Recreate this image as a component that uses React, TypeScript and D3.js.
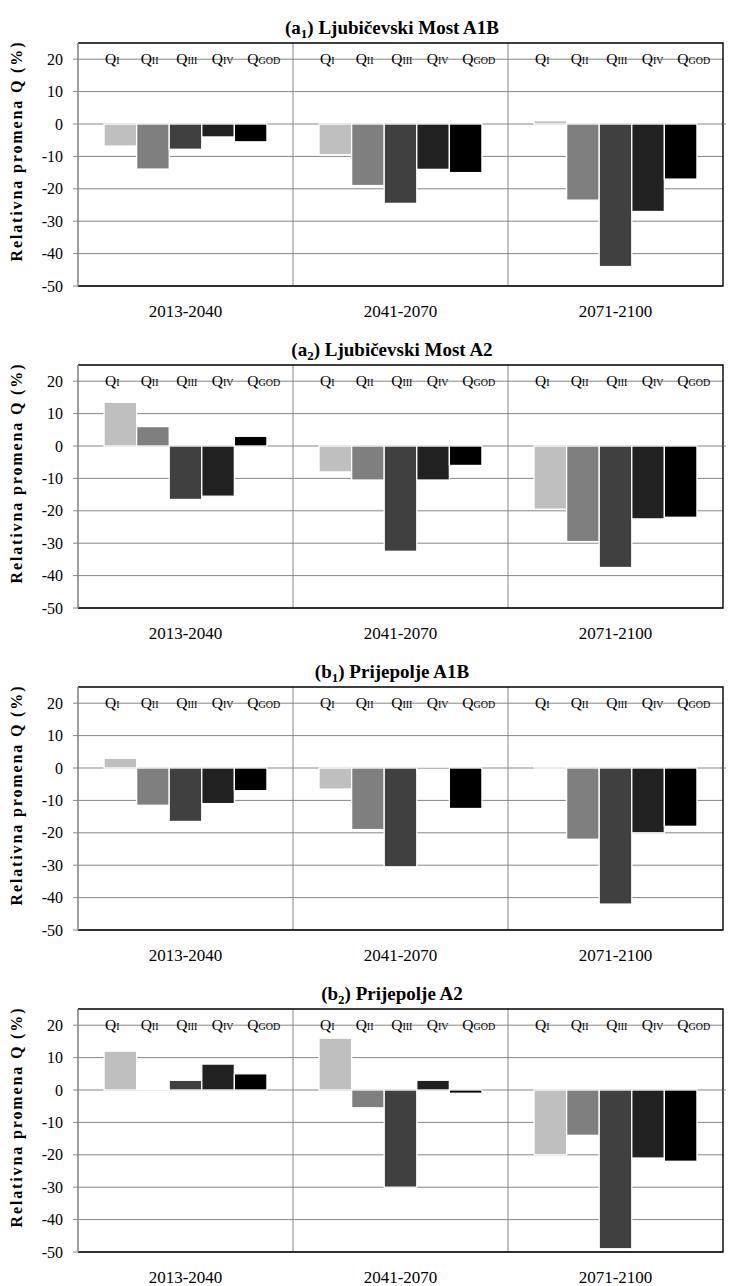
import React from "react";
import * as d3 from "d3";

const periods = ["2013-2040", "2041-2070", "2071-2100"];
const seriesSubs = ["I", "II", "III", "IV", "GOD"];
const seriesColors = ["#bfbfbf", "#7f7f7f", "#404040", "#212121", "#000000"];
const yTicks = [20, 10, 0, -10, -20, -30, -40, -50];

// values per period: [QI, QII, QIII, QIV, QGOD]
const ljubicevskiA1B = [
  [-6.8, -13.9, -7.8, -4.0, -5.5],
  [-9.5, -19, -24.5, -14, -15],
  [1, -23.5, -44, -27, -17],
];
const ljubicevskiA2 = [
  [13.5, 6, -16.5, -15.5, 3],
  [-8, -10.5, -32.5, -10.5, -6],
  [-19.5, -29.5, -37.5, -22.5, -22],
];
const prijepoljeA1B = [
  [3, -11.5, -16.5, -11, -7],
  [-6.5, -19, -30.5, -0.5, -12.5],
  [0.5, -22, -42, -20, -18],
];
const prijepoljeA2 = [
  [12, 0.2, 3, 8, 5],
  [16, -5.5, -30, 3, -1],
  [-20, -14, -49, -21, -22],
];

const panelTitles = [
  { letter: "a", sub: "1", name: "Ljubičevski Most A1B" },
  { letter: "a", sub: "2", name: "Ljubičevski Most A2" },
  { letter: "b", sub: "1", name: "Prijepolje A1B" },
  { letter: "b", sub: "2", name: "Prijepolje A2" },
];
const panelData = [ljubicevskiA1B, ljubicevskiA2, prijepoljeA1B, prijepoljeA2];

const FONT = "Liberation Serif, Tinos, DejaVu Serif, serif";
const LEFT = 78;
const RIGHT = 723;
const PANEL_H = 243;
const GRID = "#868686";

function Panel({ index }: { index: number }) {
  const top = 43 + index * 322;
  const bottom = top + PANEL_H;
  const data = panelData[index];
  const t = panelTitles[index];
  const x = d3.scaleBand<string>().domain(periods).range([LEFT, RIGHT]).padding(0);
  const inner = d3
    .scaleBand<string>()
    .domain(seriesSubs)
    .range([0, x.bandwidth()])
    .paddingInner(0)
    .paddingOuter(0.8);
  const y = d3.scaleLinear().domain([-50, 25]).range([bottom, top]);

  return (
    <g style={{ fontFamily: FONT }}>
      {/* title */}
      <text x={392} y={top - 9} textAnchor="middle" fontWeight="bold" fontSize={19}>
        ({t.letter}
        <tspan fontSize={13} dy={4}>{t.sub}</tspan>
        <tspan dy={-4}>) {t.name}</tspan>
      </text>
      {/* gridlines */}
      {yTicks.map((v) => (
        <line key={v} x1={LEFT} x2={RIGHT} y1={y(v)} y2={y(v)} stroke={GRID} strokeWidth={1} />
      ))}
      {/* category separators */}
      {periods.slice(1).map((p) => (
        <line key={p} x1={x(p)!} x2={x(p)!} y1={top} y2={bottom} stroke={GRID} strokeWidth={1} />
      ))}
      {/* bars */}
      {periods.map((p, pi) =>
        seriesSubs.map((s, si) => {
          const v = data[pi][si];
          const x0 = x(p)! + inner(s)!;
          const y0 = y(Math.max(0, v));
          const y1 = y(Math.min(0, v));
          return (
            <rect
              key={p + s}
              x={x0}
              y={y0}
              width={inner.bandwidth()}
              height={Math.max(0, y1 - y0)}
              fill={seriesColors[si]}
              stroke="#ffffff"
              strokeWidth={1.3}
            />
          );
        })
      )}
      {/* series labels on the 20 line */}
      {periods.map((p) =>
        seriesSubs.map((s, si) => (
          <text
            key={"l" + p + s}
            x={x(p)! + inner(s)! + 1 + si * 3}
            y={y(20) + 4.5}
            fontSize={15.5}
          >
            Q<tspan fontSize={10} dy={0.5}>{s}</tspan>
          </text>
        ))
      )}
      {/* box */}
      <path
        d={`M${LEFT},${top}H${RIGHT}V${bottom}H${LEFT}`}
        fill="none"
        stroke="#000"
        strokeWidth={1.4}
      />
      <line x1={RIGHT} x2={RIGHT + 3} y1={y(0)} y2={y(0)} stroke={GRID} strokeWidth={1} />
      {/* y axis */}
      <line x1={LEFT} x2={LEFT} y1={top} y2={bottom} stroke={GRID} strokeWidth={1.6} />
      {yTicks.map((v) => (
        <g key={"t" + v}>
          <line x1={LEFT - 5} x2={LEFT} y1={y(v)} y2={y(v)} stroke={GRID} strokeWidth={1} />
          <text x={63} y={y(v) + 5.5} textAnchor="end" fontSize={16}>
            {v}
          </text>
        </g>
      ))}
      {/* y title */}
      <text
        transform={`translate(22,${top + 109}) rotate(-90)`}
        textAnchor="middle"
        fontWeight="bold"
        fontSize={16}
        textLength={219}
        lengthAdjust="spacing"
      >
        Relativna promena Q (%)
      </text>
      {/* x labels */}
      {periods.map((p) => (
        <text
          key={"x" + p}
          x={x(p)! + x.bandwidth() / 2}
          y={bottom + 31}
          textAnchor="middle"
          fontSize={17}
        >
          {p}
        </text>
      ))}
    </g>
  );
}

export default function App() {
  return (
    <svg
      width={729}
      height={1286}
      style={{ position: "absolute", left: 0, top: 0, background: "#fff" }}
    >
      <rect width={729} height={1286} fill="#fff" />
      {panelData.map((_, i) => (
        <Panel key={i} index={i} />
      ))}
    </svg>
  );
}
